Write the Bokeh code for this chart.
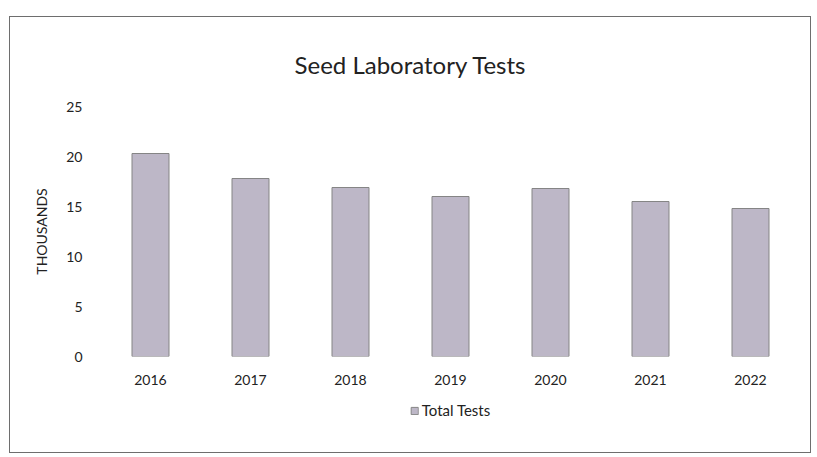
from bokeh.plotting import figure
from bokeh.layouts import column
from bokeh.models import ColumnDataSource, Legend, LegendItem, Range1d, FixedTicker, Div
from bokeh.embed import file_html
from bokeh.resources import INLINE

# Data (thousands of tests)
years = ["2016", "2017", "2018", "2019", "2020", "2021", "2022"]
total_tests = [20.3, 17.8, 16.9, 16.0, 16.8, 15.5, 14.8]
y_ticks = [0, 5, 10, 15, 20, 25]
series_name = "Total Tests"
title_text = "Seed Laboratory Tests"
y_label = "THOUSANDS"

FONT = "Lato"
TEXT = "#222222"
BAR_FILL = "#bdb7c7"
BAR_LINE = "#858585"
BAR_W = 0.37

# ---- title ----
title_div = Div(
    text=(f'<div style="width:800px;padding-top:34px;text-align:center;font-family:{FONT};'
          f'font-size:24px;line-height:28px;color:{TEXT};">{title_text}</div>'),
    width=800, height=70, margin=0,
)

# ---- main chart ----
source = ColumnDataSource(dict(year=years, value=total_tests))

p = figure(
    x_range=years,
    y_range=Range1d(0, 25),
    frame_width=700,
    frame_height=250,
    output_backend="svg",
    toolbar_location=None,
    min_border_left=90,
    min_border_right=10,
    min_border_top=19,
    min_border_bottom=38,
    margin=0,
)

r = p.vbar(x="year", top="value", width=BAR_W, source=source,
           fill_color=BAR_FILL, line_color=BAR_LINE, line_width=1)

p.xgrid.grid_line_color = None
p.ygrid.grid_line_color = None
p.outline_line_color = None

p.yaxis.ticker = FixedTicker(ticks=y_ticks)
p.yaxis.axis_line_color = None
p.yaxis.major_tick_line_color = None
p.yaxis.minor_tick_line_color = None
p.yaxis.major_label_standoff = 12
p.yaxis.major_label_text_font = FONT
p.yaxis.major_label_text_font_size = "14px"
p.yaxis.major_label_text_color = TEXT
p.yaxis.axis_label = y_label
p.yaxis.axis_label_text_font = FONT
p.yaxis.axis_label_text_font_size = "14px"
p.yaxis.axis_label_text_font_style = "normal"
p.yaxis.axis_label_text_color = TEXT
p.yaxis.axis_label_standoff = 13

p.xaxis.axis_line_color = None
p.xaxis.major_tick_line_color = None
p.xaxis.minor_tick_line_color = None
p.xaxis.major_label_standoff = 12
p.xaxis.major_label_text_font = FONT
p.xaxis.major_label_text_font_size = "14px"
p.xaxis.major_label_text_color = TEXT

p.x_range.range_padding = 0

# ---- legend strip (same series, drawn outside its visible range) ----
lg = figure(x_range=years, y_range=Range1d(100, 200),
            width=800, height=58, output_backend="svg", toolbar_location=None,
            x_axis_type=None, y_axis_type=None,
            min_border=0, min_border_left=24, margin=0)
lg.grid.grid_line_color = None
lg.outline_line_color = None
lg_r = lg.vbar(x="year", top="value", width=BAR_W, source=source,
               fill_color=BAR_FILL, line_color=BAR_LINE, line_width=1)
legend = Legend(items=[LegendItem(label=series_name, renderers=[lg_r])],
                orientation="horizontal", location="top_center",
                label_text_font=FONT, label_text_font_size="15px",
                label_text_color=TEXT,
                glyph_width=9, glyph_height=9, label_standoff=3,
                border_line_color=None, background_fill_alpha=0,
                padding=0, margin=7)
lg.add_layout(legend, "center")

layout = column(title_div, p, lg, spacing=0,
                styles={"border": "1px solid #6e6e6e",
                        "margin-left": "9px", "margin-top": "16px"})

open("out.html", "w").write(file_html(layout, INLINE))
